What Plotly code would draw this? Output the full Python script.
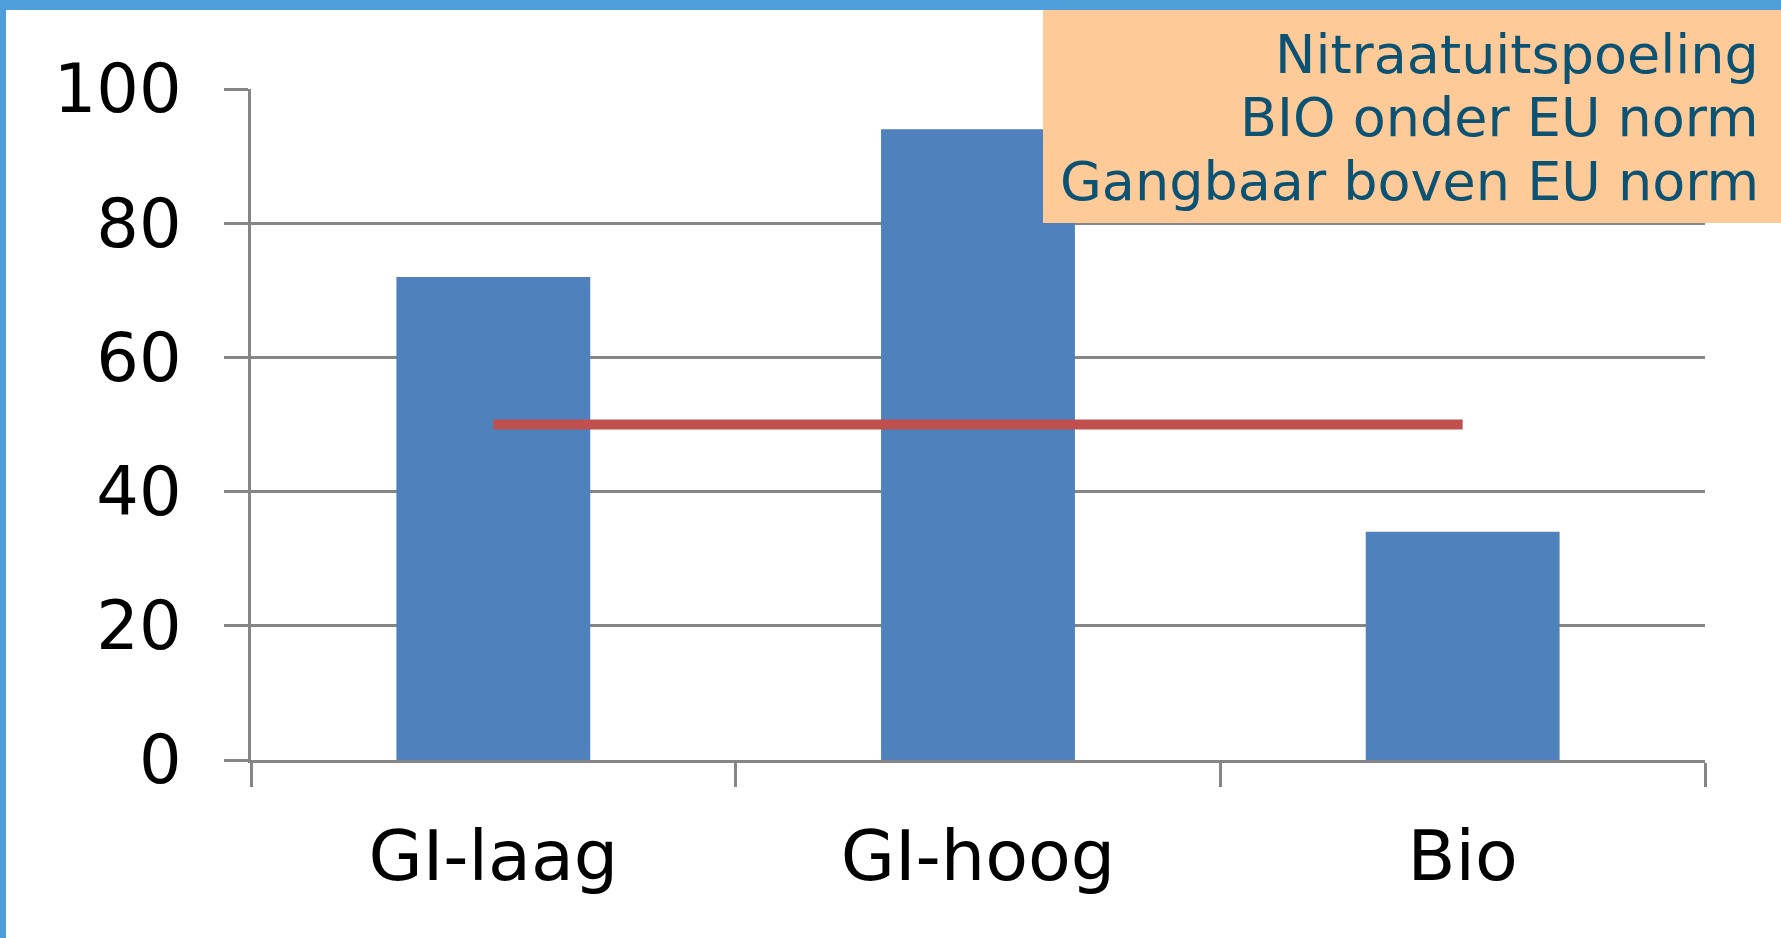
import plotly.graph_objects as go

categories = ["GI-laag", "GI-hoog", "Bio"]
nitrate_values = [72, 94, 34]
eu_norm = [50, 50, 50]
y_ticks = [0, 20, 40, 60, 80, 100]
box_lines = ["Nitraatuitspoeling", "BIO onder EU norm", "Gangbaar boven EU norm"]

W, H = 1781, 938
L, R, T, B = 251, 76, 89, 178
PW, PH = W - L - R, H - T - B

def px(x):
    return (x - L) / PW

def py(y):
    return (H - B - y) / PH

GRID = "#868686"
BORDER = "#4E9FD9"

fig = go.Figure()
fig.add_trace(go.Bar(x=categories, y=nitrate_values, marker_color="#4F81BD",
                     marker_line_width=0, showlegend=False))
fig.add_trace(go.Scatter(x=categories, y=eu_norm, mode="lines",
                         line=dict(color="#C0504D", width=10), showlegend=False))

shapes = [
    # blue frame (top and left)
    dict(type="rect", xref="paper", yref="paper", x0=px(0), x1=px(W), y0=py(10), y1=py(0),
         fillcolor=BORDER, line_width=0, layer="above"),
    dict(type="rect", xref="paper", yref="paper", x0=px(0), x1=px(6), y0=py(H), y1=py(0),
         fillcolor=BORDER, line_width=0, layer="above"),
    # orange box
    dict(type="rect", xref="paper", yref="paper", x0=px(1043), x1=px(W), y0=py(223), y1=py(10),
         fillcolor="#FDCA98", line_width=0, layer="above"),
]

line_y = [54.5, 118, 181]
annotations = [
    dict(text=t, xref="paper", yref="paper", x=px(1761), y=py(yy), xanchor="right",
         yanchor="middle", showarrow=False,
         font=dict(family="DejaVu Sans", size=54, color="#0B5273"))
    for t, yy in zip(box_lines, line_y)
]

fig.update_layout(
    width=W, height=H,
    margin=dict(l=L, r=R, t=T, b=B, autoexpand=False),
    paper_bgcolor="white", plot_bgcolor="white",
    bargap=0.6,
    shapes=shapes, annotations=annotations,
    font=dict(family="DejaVu Sans", color="black"),
)
fig.update_yaxes(range=[0, 100], tickvals=y_ticks, showgrid=True, gridcolor=GRID, gridwidth=3,
                 showline=True, linecolor=GRID, linewidth=3, zeroline=False,
                 ticks="outside", ticklen=24, tickwidth=3, tickcolor=GRID,
                 tickfont=dict(size=67, family="DejaVu Sans", color="black"),
                 ticklabelstandoff=29)
fig.update_xaxes(range=[-0.5, 2.5], showline=True, linecolor=GRID, linewidth=3,
                 ticks="outside", tickson="boundaries", ticklen=24, tickwidth=3, tickcolor=GRID,
                 showgrid=False,
                 tickfont=dict(size=70, family="DejaVu Sans", color="black"),
                 ticklabelstandoff=33)

fig.write_html("out.html", config={"displayModeBar": False},
               post_script="document.body.style.margin='0';document.body.style.overflow='hidden';")
